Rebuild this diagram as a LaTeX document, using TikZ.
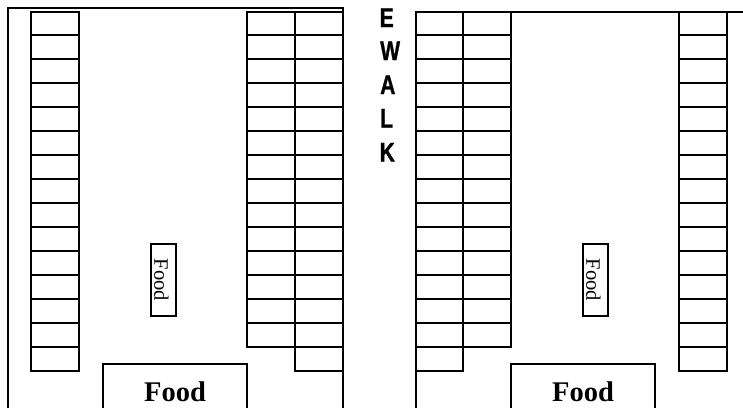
\documentclass[tikz,border=0pt]{standalone}
\usepackage{fontspec}
\setmainfont{Liberation Serif}
\newfontfamily\walkfont[BoldFeatures={FakeStretch=0.78,FakeBold=1}]{Liberation Sans}
\tikzset{
  plan/.style={line width=2pt,black,line cap=butt},
  bigfood/.style={font=\fontsize{28.5}{28.5}\selectfont\bfseries,anchor=base,inner sep=0pt},
  smallfood/.style={font=\fontsize{20.5}{20.5}\selectfont,rotate=-90,inner sep=0pt},
  walk/.style={font=\walkfont\fontsize{27}{27}\selectfont\bfseries,anchor=base west,inner sep=0pt}
}
\newcommand{\rowsat}[4]{% x1, x2, first row index, last row index
  \foreach \k in {#3,...,#4}{\draw[plan] (#1,{11.5+23.95*\k}) -- (#2,{11.5+23.95*\k});}}
\begin{document}
\begin{tikzpicture}[x=1pt,y=-1pt]
\useasboundingbox (0,0) rectangle (743,408);
% left room
\draw[plan] (7.5,408) -- (7.5,8) -- (343,8) -- (343,408);
\draw[plan] (31,370.8) -- (31,12) -- (79,12) -- (79,370.8);
\rowsat{30}{80}{1}{15}
\draw[plan] (247,346.8) -- (247,12) -- (343,12);
\draw[plan] (295,370.8) -- (295,12);
\rowsat{246}{343}{1}{14}
\rowsat{294}{343}{15}{15}
\draw[plan] (151,244) rectangle (175.5,316);
\node[smallfood] (foodA) at (161.5,280) {Food};
\draw[plan] (103,408) -- (103,364) -- (247,364) -- (247,408);
\node[bigfood] (foodB) at (175,401) {Food};
% walk label
\node[walk] (e) at (379.5,27) {E};
\node[walk] (w) at (380,60) {W};
\node[walk] (a) at (380,94) {A};
\node[walk] (l) at (380,127.5) {L};
\node[walk] (k) at (379.5,161.5) {K};
% right room
\draw[plan] (743,12) -- (415.5,12) -- (415.5,408);
\draw[plan] (463,370.8) -- (463,12);
\draw[plan] (511,346.8) -- (511,12);
\rowsat{415.5}{512}{1}{14}
\rowsat{415.5}{464}{15}{15}
\draw[plan] (679,370.8) -- (679,12);
\draw[plan] (727,370.8) -- (727,12);
\rowsat{678}{728}{1}{15}
\draw[plan] (583,244) rectangle (607.5,316);
\node[smallfood] (foodC) at (593.5,280) {Food};
\draw[plan] (511,408) -- (511,364) -- (655,364) -- (655,408);
\node[bigfood] (foodD) at (583,401) {Food};
\end{tikzpicture}
\end{document}
